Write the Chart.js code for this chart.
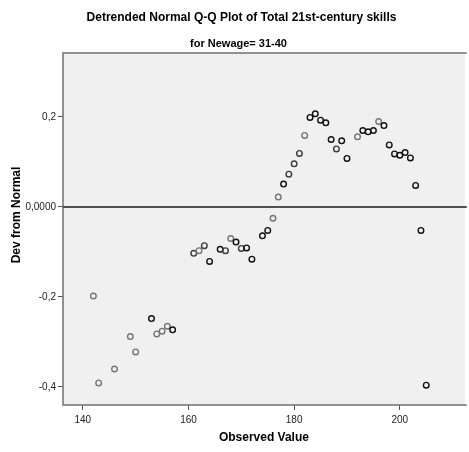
<!DOCTYPE html>
<html>
<head>
<meta charset="utf-8">
<title>Detrended Normal Q-Q Plot</title>
<script src="https://cdn.jsdelivr.net/npm/chart.js@4"></script>
<style>
  html, body { margin: 0; padding: 0; background: #fff; }
</style>
</head>
<body>
<canvas id="qqChart" width="469" height="452"></canvas>
<script>
const observed = [142, 143, 146, 149, 150, 153, 154, 155, 156, 157,
  161, 162, 163, 164, 166, 167, 168, 169, 170, 171, 172, 174,
  175, 176, 177, 178, 179, 180, 181, 182, 183, 184, 185, 186, 187, 188, 189, 190,
  192, 193, 194, 195, 196, 197, 198, 199, 200, 201, 202, 203, 204, 205];
const devFromNormal = [-0.198, -0.391, -0.360, -0.288, -0.322, -0.248, -0.282, -0.276, -0.265, -0.273,
  -0.103, -0.097, -0.086, -0.121, -0.094, -0.097, -0.070, -0.078, -0.092, -0.091, -0.116, -0.064,
  -0.052, -0.025, 0.022, 0.051, 0.073, 0.096, 0.119, 0.159, 0.199, 0.207, 0.193, 0.187, 0.150, 0.129, 0.147, 0.108,
  0.156, 0.170, 0.167, 0.170, 0.190, 0.181, 0.138, 0.118, 0.115, 0.121, 0.109, 0.048, -0.052, -0.396];
// cases sharing the same observed value (overplotted circles look darker)
const caseCounts = [1, 1, 1, 1, 1, 3, 1, 1, 1, 3,
  2, 1, 2, 3, 3, 2, 1, 3, 2, 3, 3, 3,
  3, 1, 1, 3, 2, 2, 2, 1, 3, 3, 3, 3, 3, 2, 3, 3,
  1, 3, 3, 3, 1, 3, 3, 3, 3, 3, 3, 3, 3, 3];

const xTicks = [140, 160, 180, 200];
const yTicks = [-0.4, -0.2, 0, 0.2];
const yTickLabels = ["-0,4", "-0,2", "0,0000", "0,2"];

const titleText = "Detrended Normal Q-Q Plot of Total 21st-century skills";
const subtitleText = "for Newage= 31-40";
const xAxisTitle = "Observed Value";
const yAxisTitle = "Dev from Normal";

const FONT = "'Liberation Sans', Arial, sans-serif";

const points = observed.map((x, i) => ({ x: x, y: devFromNormal[i] }));
const shade = (n) => (n >= 3 ? "#111" : n === 2 ? "#3c3c3c" : "#767676");

// grey plot background, frame and the zero reference line
const plotFrame = {
  id: "plotFrame",
  beforeDraw(chart) {
    const { ctx, chartArea: a } = chart;
    ctx.save();
    ctx.fillStyle = "#f0f0f0";
    ctx.fillRect(a.left, a.top, a.right - a.left, a.bottom - a.top);
    ctx.restore();
  },
  beforeDatasetsDraw(chart) {
    const { ctx, chartArea: a } = chart;
    const y0 = chart.scales.y.getPixelForValue(0);
    ctx.save();
    ctx.strokeStyle = "#707070";
    ctx.lineWidth = 1.5;
    ctx.beginPath();
    ctx.moveTo(a.right + 2, a.top);
    ctx.lineTo(a.left, a.top);
    ctx.lineTo(a.left, a.bottom);
    ctx.lineTo(a.right + 2, a.bottom);
    ctx.stroke();
    ctx.strokeStyle = "#505050";
    ctx.lineWidth = 2;
    ctx.beginPath();
    ctx.moveTo(a.left, Math.round(y0));
    ctx.lineTo(a.right + 2, Math.round(y0));
    ctx.stroke();
    ctx.restore();
  }
};

// headings and the rotated y axis label
const headings = {
  id: "headings",
  afterDraw(chart) {
    const { ctx } = chart;
    ctx.save();
    ctx.fillStyle = "#000";
    ctx.textAlign = "center";
    ctx.textBaseline = "middle";
    ctx.font = "bold 12px " + FONT;
    ctx.fillText(titleText, 241.5, 18);
    ctx.font = "bold 11px 'Liberation Sans Narrow', " + FONT;
    ctx.fillText(subtitleText, 238.5, 44);
    ctx.translate(17, 215);
    ctx.rotate(-Math.PI / 2);
    ctx.font = "bold 12px " + FONT;
    ctx.fillText(yAxisTitle, 0, 0);
    ctx.restore();
  }
};

new Chart(document.getElementById("qqChart"), {
  type: "scatter",
  data: {
    datasets: [{
      data: points,
      pointRadius: 2.8,
      pointHoverRadius: 2.8,
      pointBorderWidth: 1.4,
      pointBackgroundColor: "rgba(0,0,0,0)",
      pointBorderColor: caseCounts.map(shade)
    }]
  },
  options: {
    responsive: false,
    animation: false,
    devicePixelRatio: 1,
    layout: { padding: { top: 53, left: 0, right: 0, bottom: 0 } },
    plugins: {
      legend: { display: false },
      tooltip: { enabled: false }
    },
    scales: {
      x: {
        type: "linear",
        min: 136.25,
        max: 212.3,
        afterBuildTicks: (scale) => { scale.ticks = xTicks.map((v) => ({ value: v })); },
        afterFit: (scale) => { scale.height = 47; },
        grid: { drawOnChartArea: false, tickLength: 5, color: "#555", lineWidth: 1 },
        border: { display: false },
        ticks: { color: "#222", font: { family: FONT, size: 10 }, padding: 4, maxRotation: 0 },
        title: {
          display: true,
          text: xAxisTitle,
          color: "#000",
          font: { family: FONT, size: 12, weight: "bold" },
          padding: { top: 0, bottom: 7 }
        }
      },
      y: {
        min: -0.44,
        max: 0.3422,
        afterBuildTicks: (scale) => { scale.ticks = yTicks.map((v) => ({ value: v })); },
        afterFit: (scale) => { scale.width = 63; },
        grid: { drawOnChartArea: false, tickLength: 5, color: "#555", lineWidth: 1 },
        border: { display: false },
        ticks: {
          color: "#222",
          font: { family: FONT, size: 10 },
          padding: 2,
          callback: (v) => yTickLabels[yTicks.indexOf(v)]
        }
      }
    }
  },
  plugins: [plotFrame, headings]
});
</script>
</body>
</html>
